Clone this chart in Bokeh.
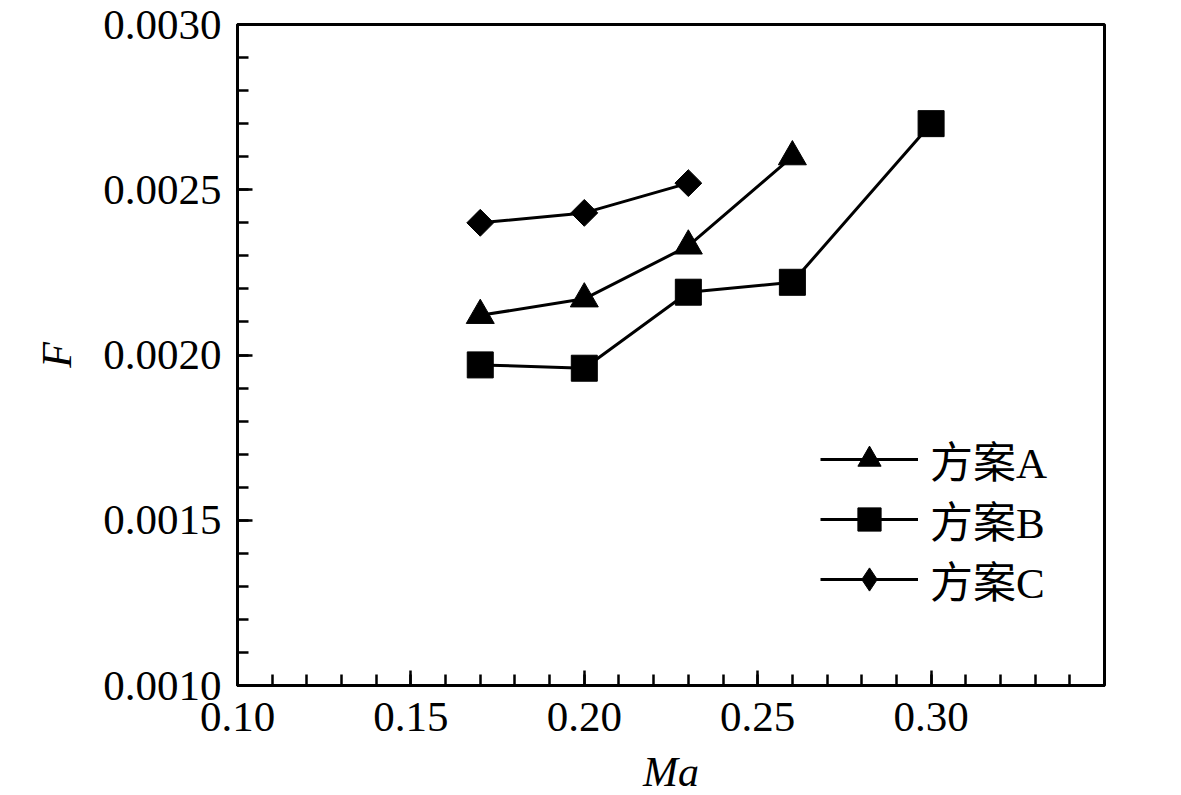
import math
from bokeh.plotting import figure
from bokeh.models import Range1d, SingleIntervalTicker, PrintfTickFormatter, Legend, LegendItem
from bokeh.embed import file_html
from bokeh.resources import INLINE

# Data
ma_A = [0.17, 0.20, 0.23, 0.26]
F_A = [0.00212, 0.00217, 0.00233, 0.00260]
ma_B = [0.17, 0.20, 0.23, 0.26, 0.30]
F_B = [0.00197, 0.00196, 0.00219, 0.00222, 0.00270]
ma_C = [0.17, 0.20, 0.23]
F_C = [0.00240, 0.00243, 0.00252]
labels = ["方案A", "方案B", "方案C"]

SERIF = "Liberation Serif, 'Times New Roman', 'Noto Sans CJK SC', serif"

p = figure(frame_width=867, frame_height=661, output_backend="svg", toolbar_location=None,
           x_range=Range1d(0.10, 0.35), y_range=Range1d(0.0010, 0.0030),
           min_border_left=237, min_border_top=24, min_border_right=60, min_border_bottom=20)
p.background_fill_color = "white"
p.border_fill_color = "white"
p.outline_line_color = "black"
p.outline_line_width = 3
p.xgrid.visible = False
p.ygrid.visible = False

p.xaxis.ticker = SingleIntervalTicker(interval=0.05, num_minor_ticks=5)
p.yaxis.ticker = SingleIntervalTicker(interval=0.0005, num_minor_ticks=5)
p.xaxis.formatter = PrintfTickFormatter(format="%.2f")
p.yaxis.formatter = PrintfTickFormatter(format="%.4f")

for ax in (p.xaxis, p.yaxis):
    ax.axis_line_width = 3
    ax.axis_line_color = "black"
    ax.major_tick_in = 15
    ax.major_tick_out = 0
    ax.minor_tick_in = 11
    ax.minor_tick_out = 0
    ax.major_tick_line_width = 2.5
    ax.minor_tick_line_width = 2.5
    ax.major_label_text_font = SERIF
    ax.major_label_text_font_size = "43px"
    ax.major_label_text_color = "black"
    ax.axis_label_text_font = SERIF
    ax.axis_label_text_font_size = "42px"
    ax.axis_label_text_font_style = "italic"
    ax.axis_label_text_color = "black"

p.xaxis.axis_label = "Ma"
p.yaxis.axis_label = "F"
p.xaxis.major_label_standoff = 17
p.yaxis.major_label_standoff = 16
p.xaxis.axis_label_standoff = 15
p.yaxis.axis_label_standoff = 20

lA = p.line(ma_A, F_A, line_color="black", line_width=3)
mA = p.scatter(ma_A, F_A, marker="triangle", size=28, fill_color="black", line_color="black")
lB = p.line(ma_B, F_B, line_color="black", line_width=3)
mB = p.scatter(ma_B, F_B, marker="square", size=26, fill_color="black", line_color="black")
lC = p.line(ma_C, F_C, line_color="black", line_width=3)
mC = p.scatter(ma_C, F_C, marker="square", size=19, angle=math.pi / 4,
               fill_color="black", line_color="black")
# hidden twin of series C, used only to draw a diamond in the legend
mC_leg = p.scatter(ma_C, F_C, marker="diamond", size=19, fill_color="black",
                   line_color="black", visible=False)

entries = [(labels[0], [lA, mA], 195), (labels[1], [lB, mB], 135), (labels[2], [lC, mC_leg], 75)]
for lab, rends, ypos in entries:
    lg = Legend(items=[LegendItem(label=lab, renderers=rends)], location=(583, ypos))
    lg.border_line_color = None
    lg.background_fill_alpha = 0
    lg.padding = 0
    lg.margin = 0
    lg.spacing = 0
    lg.glyph_width = 98
    lg.glyph_height = 58
    lg.label_height = 40
    lg.label_standoff = 12
    lg.label_text_font = SERIF
    lg.label_text_font_size = "43px"
    lg.label_text_color = "black"
    p.add_layout(lg, "center")

open("out.html", "w").write(file_html(p, INLINE))
